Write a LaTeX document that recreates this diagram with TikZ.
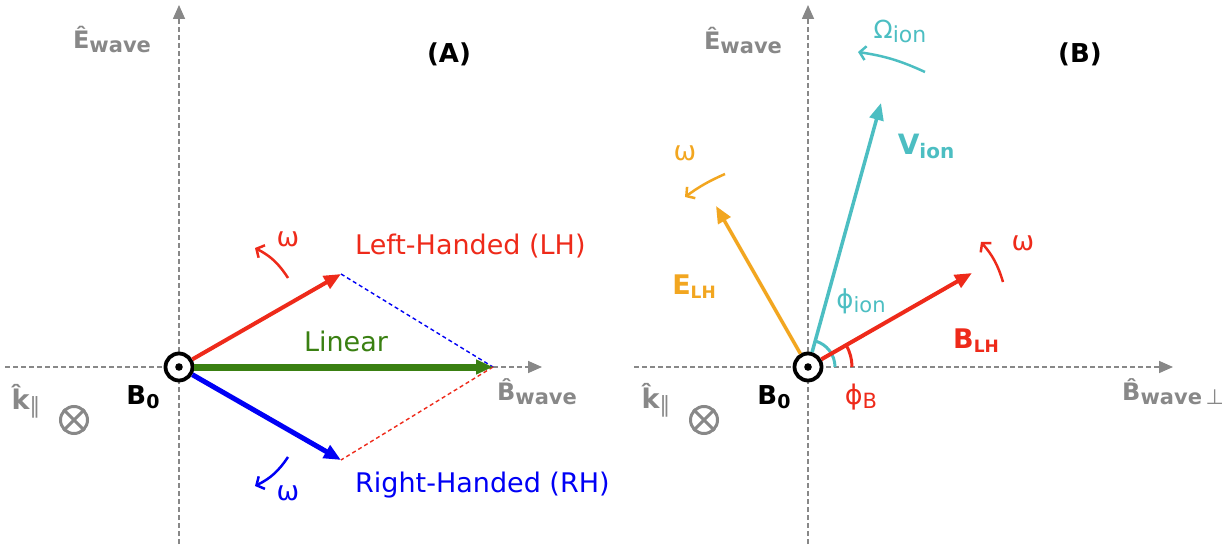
\documentclass[tikz,border=0pt]{standalone}
\usepackage{fontspec}
\setmainfont{DejaVu Sans}
\usepackage{xcolor}
\usetikzlibrary{arrows.meta}
\definecolor{axgray}{RGB}{136,136,136}
\definecolor{lhred}{RGB}{238,42,26}
\definecolor{rhblue}{RGB}{0,0,245}
\definecolor{lingreen}{RGB}{58,128,18}
\definecolor{eorange}{RGB}{242,166,32}
\definecolor{ioncyan}{RGB}{76,190,194}
\newcommand{\fs}[1]{\fontsize{#1}{#1}\selectfont}
\newcommand{\lowsub}[2]{\raisebox{-4pt}{\fs{#1}#2}}
\tikzset{
  axln/.style={draw=axgray, line width=1.6pt, dash pattern=on 5pt off 3pt, -{Triangle[length=14pt,width=12pt]}},
  bzero/.style={circle, draw=black, fill=white, line width=3.8pt, minimum size=27pt, inner sep=0pt},
  kpar/.style={circle, draw=axgray, line width=3pt, minimum size=27pt, inner sep=0pt},
  vec/.style={line width=4pt, -{Triangle[length=17pt,width=14pt]}},
  diag/.style={line width=1.4pt, dash pattern=on 4pt off 3pt},
  rot/.style={line width=2.5pt, -{Straight Barb[length=6pt,width=14pt]}},
  ang/.style={line width=3pt},
  glbl/.style={text=axgray, font={\bfseries\fs{24}}, inner sep=0pt},
  lbl/.style={font={\fs{27}}, inner sep=0pt},
  blbl/.style={font={\bfseries\fs{26}}, inner sep=0pt}
}
\begin{document}
\begin{tikzpicture}[x=1pt, y=1pt]
  \useasboundingbox (0,0) rectangle (1231,544);
  % panel A
  \begin{scope}[shift={(179,177)}]
    \coordinate (aS) at (0,-177); \coordinate (aN) at (0,362);
    \coordinate (aW) at (-174,0); \coordinate (aE) at (363,0);
    \draw[axln] (aS)--(aN); \draw[axln] (aW)--(aE);
    \coordinate (lh) at (162,93);
    \coordinate (rh) at (162,-93);
    \coordinate (lin) at (314,0);
    \node[bzero] (b0A) at (0,0) {};
    \fill (b0A.center) circle (3.8);
    \draw[diag, rhblue] (lh)--(lin); \draw[diag, lhred] (lin)--(rh);
    \draw[vec, lhred] (b0A)--(lh);
    \draw[vec, rhblue, line width=5pt] (b0A)--(rh);
    \draw[vec, lingreen, line width=7pt] (b0A)--(lin);
    \coordinate (wr1) at (109,89); \coordinate (wr2) at (76,119);
    \coordinate (wb1) at (109,-90); \coordinate (wb2) at (76,-119);
    \draw[rot, lhred] (wr1) to[bend right=15] (wr2);
    \draw[rot, rhblue] (wb1) to[bend left=15] (wb2);
    \node[lbl, text=lhred] (wrA) at (109,128) {ω};
    \node[lbl, text=rhblue] (wbA) at (109,-126) {ω};
    \node[lbl, text=lingreen] (linA) at (167,26) {Linear};
    \node[lbl, text=lhred, anchor=west] (lhA) at (176,121) {Left-Handed (LH)};
    \node[lbl, text=rhblue, anchor=west] (rhA) at (176,-118) {Right-Handed (RH)};
    \node[blbl] (b0lA) at (-36,-30) {B\lowsub{19}{0}};
    \node[glbl, font={\bfseries\fs{27}}] (kA) at (-153,-34) {\^{k}\lowsub{22}{\mdseries ∥}};
    \node[kpar] (kxA) at (-105,-53) {};
    \draw[axgray, line width=3pt] (kxA.45)--(kxA.225) (kxA.135)--(kxA.315);
    \node[glbl] (ewA) at (-67,327) {\^{E}\lowsub{21}{wave}};
    \node[glbl] (bwA) at (358,-25) {\^{B}\lowsub{21}{wave}};
    \node[blbl, font={\bfseries\fs{26}}] (tA) at (270,313) {(A)};
  \end{scope}
  % panel B
  \begin{scope}[shift={(808,177)}]
    \coordinate (bS) at (0,-177); \coordinate (bN) at (0,362);
    \coordinate (bW) at (-174,0); \coordinate (bE) at (365,0);
    \draw[axln] (bS)--(bN); \draw[axln] (bW)--(bE);
    \coordinate (et) at (-92,161);
    \coordinate (vt) at (73,264);
    \coordinate (bt) at (164,94);
    \draw[ang, ioncyan] (27,0) arc[start angle=0, end angle=74.5, radius=27];
    \draw[ang, lhred] (44,0) arc[start angle=0, end angle=29.6, radius=44];
    \node[bzero] (b0B) at (0,0) {};
    \fill (b0B.center) circle (3.8);
    \draw[vec, eorange, line width=3.5pt] (b0B)--(et);
    \draw[vec, ioncyan, line width=3.5pt] (b0B)--(vt);
    \draw[vec, lhred] (b0B)--(bt);
    \coordinate (wo1) at (-83,193); \coordinate (wo2) at (-123,170);
    \coordinate (wq1) at (195,85); \coordinate (wq2) at (173,125);
    \coordinate (om1) at (117,295); \coordinate (om2) at (50,315);
    \draw[rot, eorange] (wo1) to[bend right=6] (wo2);
    \draw[rot, lhred] (wq1) to[bend right=12] (wq2);
    \draw[rot, ioncyan] (om1) to[bend right=8] (om2);
    \node[lbl, text=eorange] (woB) at (-123,214) {ω};
    \node[lbl, text=lhred] (wqB) at (215,124) {ω};
    \node[lbl, text=ioncyan, font={\fs{25}}] (omB) at (92,336) {Ω\lowsub{22}{ion}};
    \node[blbl, text=ioncyan, font={\bfseries\fs{28}}] (vB) at (118,221) {V\lowsub{20}{ion}};
    \node[blbl, text=eorange, font={\bfseries\fs{27}}] (eB) at (-114,80) {E\lowsub{17}{LH}};
    \node[blbl, text=lhred, font={\bfseries\fs{27}}] (blhB) at (168,26) {B\lowsub{17}{LH}};
    \node[lbl, text=ioncyan, font={\fs{26}}] (piB) at (53,66) {ϕ\lowsub{21}{ion}};
    \node[lbl, text=lhred] (pbB) at (53,-30) {ϕ\lowsub{21}{B}};
    \node[blbl] (b0lB) at (-34,-30) {B\lowsub{19}{0}};
    \node[glbl, font={\bfseries\fs{27}}] (kB) at (-152,-33) {\^{k}\lowsub{22}{\mdseries ∥}};
    \node[kpar] (kxB) at (-104,-53) {};
    \draw[axgray, line width=3pt] (kxB.45)--(kxB.225) (kxB.135)--(kxB.315);
    \node[glbl] (ewB) at (-65,326) {\^{E}\lowsub{21}{wave}};
    \node[glbl] (bwB) at (365,-25) {\^{B}\lowsub{21}{wave\,\mdseries ⊥}};
    \node[blbl, font={\bfseries\fs{26}}] (tB) at (272,313) {(B)};
  \end{scope}
\end{tikzpicture}
\end{document}
